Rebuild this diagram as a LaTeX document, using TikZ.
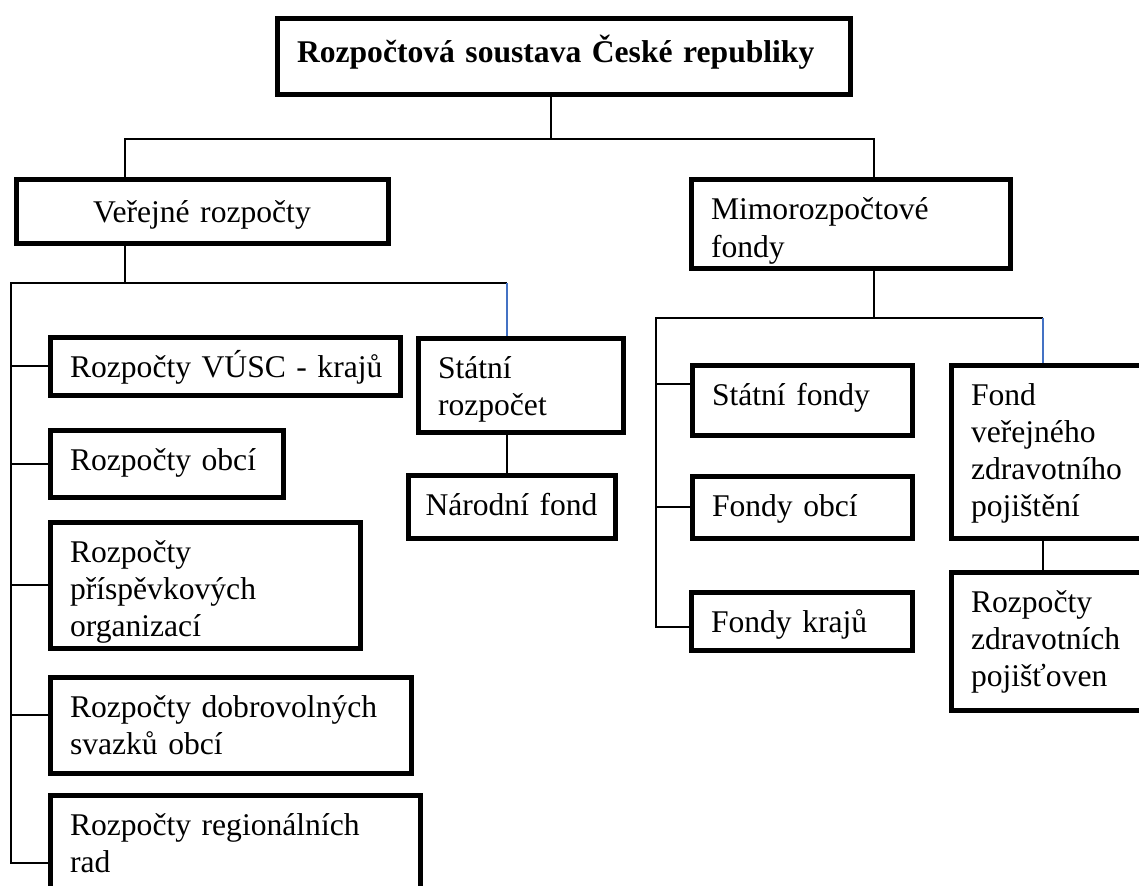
\documentclass[tikz,border=0pt]{standalone}
\usepackage{fontspec}
\setmainfont{Liberation Serif}
\usetikzlibrary{calc}
\definecolor{linkblue}{RGB}{68,114,196}

\begin{document}
\begin{tikzpicture}[x=1pt, y=-1pt,
    box/.style={draw, line width=5pt, inner xsep=20pt, inner ysep=0pt, align=left,
                text height=40pt, font=\fontsize{31.6}{37}\selectfont},
    conn/.style={line width=2pt},
    bluelink/.style={linkblue, line width=1.3pt}]
  \useasboundingbox (0,0) rectangle (1139,885);

  % boxes (text hangs from the top edge)
  \node[box, text width=533pt, minimum height=76pt, text height=43.5pt, text depth=32.5pt,
        font=\fontsize{31.6}{37}\selectfont\bfseries] (title) at (563.5,57) {Rozpočtová soustava České republiky};
  \node[box, align=center, text width=332pt, minimum height=63pt, text height=42.5pt, text depth=20.5pt] (verejne) at (202,211.5) {Veřejné rozpočty};
  \node[box, text width=279pt, minimum height=88pt, text depth=48pt] (mimo) at (850.5,224) {Mimorozpočtové\\fondy};

  \node[box, text width=310pt, minimum height=58pt, text depth=18pt] (vusc) at (225,366) {\mbox{Rozpočty VÚSC - krajů}};
  \node[box, text width=193pt, minimum height=67pt, text depth=27pt] (obci) at (166.5,463.5) {Rozpočty obcí};
  \node[box, text width=270pt, minimum height=126pt, text depth=86pt] (prisp) at (205,585) {Rozpočty\\příspěvkových\\organizací};
  \node[box, text width=321pt, minimum height=96pt, text depth=56pt] (dobro) at (230.5,725) {Rozpočty dobrovolných\\svazků obcí};
  \node[box, text width=330pt, minimum height=99pt, text depth=59pt] (region) at (235,845) {Rozpočty regionálních\\rad};

  \node[box, text width=165pt, minimum height=94pt, text depth=54pt] (statni) at (520.5,385) {Státní\\rozpočet};
  \node[box, align=center, inner xsep=10pt, text width=187pt, minimum height=63pt, text depth=23pt] (narodni) at (511.5,506.5) {Národní fond};

  \node[box, text width=180pt, minimum height=70pt, text depth=30pt] (sfondy) at (802,400) {Státní fondy};
  \node[box, text width=180pt, minimum height=62pt, text depth=22pt] (fobci) at (802,507) {Fondy obcí};
  \node[box, text width=181pt, minimum height=58pt, text depth=18pt] (fkraju) at (801.5,621) {Fondy krajů};

  \node[box, text width=164pt, minimum height=173pt, text depth=133pt] (fvzp) at (1053,451.5) {Fond\\veřejného\\zdravotního\\pojištění};
  \node[box, text width=164pt, minimum height=138pt, text depth=98pt] (rzp) at (1053,641) {Rozpočty\\zdravotních\\pojišťoven};

  % top level
  \coordinate (b1) at (125,139);
  \coordinate (b2) at (874,139);
  \draw[conn] ([xshift=-12.5pt]title.south) -- ([xshift=-12.5pt]title.south |- b1);
  \draw[conn] (verejne.north -| b1) -- (b1) -- (b2) -- (mimo.north -| b2);

  % public budgets
  \coordinate (b3) at (125,283);
  \coordinate (b4) at (11,283);
  \coordinate (b5) at (507,283);
  \coordinate (d1) at ([yshift=10pt]dobro.west);
  \coordinate (r1) at ([yshift=-18pt]region.west);
  \draw[conn] (verejne.south -| b3) -- (b3);
  \draw[conn] (b5) -- (b4) -- (b4 |- r1) -- (r1);
  \foreach \n in {vusc,obci,prisp,d1}
    \draw[conn] (b4 |- \n) -- (\n);
  \draw[bluelink] (b5) -- (statni.north -| b5);
  \draw[conn] (statni.south -| b5) -- (narodni.north -| b5);

  % extra-budgetary funds
  \coordinate (b6) at (874,318);
  \coordinate (b7) at (656,318);
  \coordinate (b8) at (1043,318);
  \coordinate (s1) at ([yshift=16pt]sfondy.west);
  \coordinate (k1) at ([yshift=-6pt]fkraju.west);
  \draw[conn] (mimo.south -| b6) -- (b6);
  \draw[conn] (b8) -- (b7) -- (b7 |- k1) -- (k1);
  \foreach \n in {s1,fobci}
    \draw[conn] (b7 |- \n) -- (\n);
  \draw[bluelink] (b8) -- (fvzp.north -| b8);
  \draw[conn] (fvzp.south -| b8) -- (rzp.north -| b8);
\end{tikzpicture}
\end{document}
